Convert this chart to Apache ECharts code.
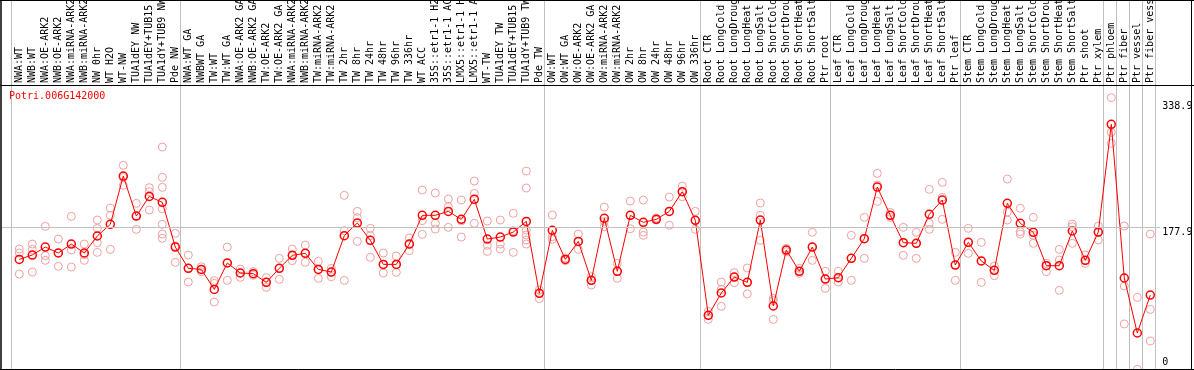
<!DOCTYPE html>
<html><head><meta charset="utf-8">
<script src="https://cdn.jsdelivr.net/npm/echarts@6/dist/echarts.min.js"></script>
<style>html,body{margin:0;padding:0;background:#fff}#c{width:1194px;height:370px}</style>
</head><body><div id="c"></div>
<script>
const chartTitle = 'Potri.006G142000';
const categories = [
  'NWA:WT','NWB:WT','NWA:OE-ARK2','NWB:OE-ARK2','NWA:miRNA-ARK2','NWB:miRNA-ARK2','NW 0hr','WT H2O','WT-NW','TUA1dEY NW','TUA1dEY+TUB15','TUA1dY+TUB9 NW','Pde NW',
  'NWA:WT GA','NWBWT GA','TW:WT','TW:WT GA','NWA:OE-ARK2 GA','NWB:OE-ARK2 GA','TW:OE-ARK2','TW:OE-ARK2 GA','NWA:miRNA-ARK2','NWB:miRNA-ARK2','TW:miRNA-ARK2','TW:miRNA-ARK2','TW 2hr','TW 8hr','TW 24hr','TW 48hr','TW 96hr','TW 336hr','WT ACC','35S::etr1-1 H2O','35S::etr1-1 ACC','LMX5::etr1-1 H2O','LMX5::etr1-1 ACC','WT-TW','TUA1dEY TW','TUA1dEY+TUB15','TUA1dY+TUB9 TW','Pde TW',
  'OW:WT','OW:WT GA','OW:OE-ARK2','OW:OE-ARK2 GA','OW:miRNA-ARK2','OW:miRNA-ARK2','OW 2hr','OW 8hr','OW 24hr','OW 48hr','OW 96hr','OW 336hr',
  'Root CTR','Root LongCold','Root LongDrought','Root LongHeat','Root LongSalt','Root ShortCold','Root ShortDrought','Root ShortHeat','Root ShortSalt','Ptr root',
  'Leaf CTR','Leaf LongCold','Leaf LongDrought','Leaf LongHeat','Leaf LongSalt','Leaf ShortCold','Leaf ShortDrought','Leaf ShortHeat','Leaf ShortSalt','Ptr leaf',
  'Stem CTR','Stem LongCold','Stem LongDrought','Stem LongHeat','Stem LongSalt','Stem ShortCold','Stem ShortDrought','Stem ShortHeat','Stem ShortSalt','Ptr shoot','Ptr xylem',
  'Ptr phloem','Ptr fiber','Ptr vessel','Ptr fiber vessel'
];
const groupStarts = [0, 13, 41, 53, 63, 73, 84, 85, 86, 87];
const meanValues = [
  138.4,143.8,153.7,146.3,157.4,146.3,167.4,181.8,241.7,192.1,216.5,209.1,153.7,
  127.3,126.0,101.2,133.9,121.5,120.7,109.9,127.3,143.4,145.9,126.0,122.7,167.8,183.5,162.0,132.2,132.2,157.4,193.0,193.0,197.9,188.0,212.8,163.6,166.1,172.3,185.5,
  96.3,174.4,138.4,160.7,112.4,189.3,123.6,193.0,184.3,188.0,197.9,222.3,186.8,
  69.0,96.7,116.5,109.9,187.2,80.6,150.0,123.6,153.7,114.0,
  115.7,139.7,164.0,228.1,193.0,159.1,158.3,194.2,212.0,131.4,
  159.5,136.4,124.8,207.9,183.1,171.9,130.6,130.6,173.6,137.2,172.3,
  305.8,115.3,47.1,94.2
];
const replicateValues = [
  [151.2,146.3,120.2],[157.4,150.8,122.7],[179.3,143.0,137.2],[163.6,146.3,129.8],[191.7,150.0,128.9],[157.4,144.3,137.2],
  [187.2,176.9,159.1,147.1],[202.1,193.0,150.8],[255.0,239.9,230.2],[207.9,192.1,175.6],[227.3,222.3,199.6],
  [277.7,240.1,227.7,201.2,181.8,169.8,164.5],[170.7,155.0,134.7],
  [143.8,127.3,110.3],[129.3,126.0,123.1],[112.0,108.7,85.5],[153.7,134.0,112.4],[126.4,121.5,116.1],[123.1,120.7,118.6],
  [115.7,109.9,103.7],[139.7,127.3,113.6],[151.2,143.4,136.8],[156.2,145.9,134.7],[136.0,126.0,114.9],[127.3,122.7,116.9],
  [217.8,174.0,112.4],[197.9,190.1,160.7],[176.9,167.8,140.9],[146.3,132.2,121.5],[142.6,132.2,122.3],[164.9,157.4,149.2],
  [224.4,186.4,169.4],[220.7,183.1,176.0],[213.2,203.7,178.1],[212.0,186.0,166.1],[235.5,220.2,183.1],[186.0,155.8,148.3],
  [187.2,157.4,151.2],[195.5,174.0,147.1],[247.9,226.9,174.8,168.6,162.4,157.4],
  [100.4,96.3,89.7],[193.4,166.5,163.2],[140.1,138.4,136.8],[169.8,160.7,150.8],[116.9,112.4,106.6],[203.3,185.5,178.9],
  [133.5,123.6,114.9],[210.7,193.0,176.4],[212.0,172.3,168.2],[189.7,188.0,187.2],[215.7,197.9,180.6],[229.3,222.3,216.1],
  [197.9,186.8,175.6],
  [74.0,69.0,64.0],[110.3,101.2,80.2],[121.9,116.5,109.5],[127.7,109.9,95.5],[208.3,193.0,162.0],[90.1,87.2,64.0],
  [152.1,150.0,147.9],[127.3,123.6,121.1],[171.9,153.7,137.2],[123.6,114.0,102.5],
  [123.6,115.7,110.3],[168.2,139.7,112.4],[190.5,164.0,139.7],[245.0,230.6,210.3],[196.7,193.0,190.5],[178.1,159.1,143.4],
  [171.9,158.3,139.7],[225.2,183.1,175.6],[233.9,215.3,188.0],[147.1,131.4,112.4],
  [176.9,159.5,145.9],[159.5,136.4,109.9],[130.2,124.8,118.2],[238.0,197.1,187.2],[201.7,172.7,169.8],[190.5,168.2,158.3],
  [133.5,130.6,123.1],[150.8,137.6,100.0],[182.2,178.9,158.3],[143.8,137.2,133.5],[179.8,172.3,162.4],
  [338.9,295.9,282.2],[179.8,105.4,58.3],[91.3,2.1],[169.8,76.4,37.2]
];
const yTickValues = [0, 177.9, 338.9];
const referenceLineValue = 177.9;

const FONT = 'DejaVu Sans Mono';
const repData = [];
replicateValues.forEach((reps, i) => reps.forEach(v => repData.push([i, v])));

const chart = echarts.init(document.getElementById('c'), null, {renderer: 'canvas'});
const gridBase = {containLabel: false, outerBoundsMode: 'none'};
chart.setOption({
  animation: false,
  backgroundColor: '#fff',
  title: {
    text: chartTitle, left: 9, top: 91, padding: 0,
    textStyle: {color: '#ff0000', fontFamily: FONT, fontSize: 10, fontWeight: 'normal'}
  },
  grid: [
    Object.assign({left: 11, top: 0, width: 1144, height: 369}, gridBase),
    Object.assign({left: 12.8, top: 0, width: 1144, height: 371}, gridBase),
    Object.assign({left: 1, top: 0, width: 1159, height: 371}, gridBase)
  ],
  xAxis: [
    {
      gridIndex: 0, type: 'category', data: categories, boundaryGap: true,
      axisLine: {show: false}, axisTick: {show: false}, axisLabel: {show: false},
      splitLine: {show: true, interval: (i) => groupStarts.includes(i), lineStyle: {color: '#c0c0c0', width: 1}}
    },
    {
      gridIndex: 1, type: 'category', data: categories, boundaryGap: true,
      position: 'top', offset: -85,
      axisLine: {show: false}, axisTick: {show: false}, splitLine: {show: false},
      axisLabel: {interval: 0, rotate: 90, margin: 2, color: '#000', fontFamily: FONT, fontSize: 10, hideOverlap: false, padding: [3, 0, 0, 0]}
    },
    {gridIndex: 2, type: 'value', min: 0, max: 1, show: false}
  ],
  yAxis: [
    {gridIndex: 0, type: 'value', min: 0, max: 1, show: false},
    {
      gridIndex: 1, type: 'value', min: 0, max: 460, position: 'right',
      axisLine: {show: false}, axisTick: {show: false}, splitLine: {show: false},
      axisLabel: {
        customValues: yTickValues, margin: 5.5, color: '#000', fontFamily: FONT, fontSize: 10,
        formatter: (v) => {
          const key = v === yTickValues[0] ? 'lo' : (v === yTickValues[yTickValues.length - 1] ? 'hi' : 'mid');
          return '{' + key + '|' + v + '}';
        },
        rich: {
          hi: {fontFamily: FONT, fontSize: 10, color: '#000', padding: [18, 0, 0, 0]},
          mid: {fontFamily: FONT, fontSize: 10, color: '#000', padding: [9, 0, 0, 0]},
          lo: {fontFamily: FONT, fontSize: 10, color: '#000', padding: [0, 0, 18, 0]}
        }
      }
    },
    {gridIndex: 2, type: 'value', min: 0, max: 460, show: false}
  ],
  series: [
    {
      type: 'line', xAxisIndex: 2, yAxisIndex: 2, data: [], silent: true, z: 1,
      markLine: {
        silent: true, symbol: ['none', 'none'], animation: false,
        label: {show: false},
        lineStyle: {color: '#c0c0c0', type: 'solid', width: 1},
        data: [{yAxis: referenceLineValue}]
      }
    },
    {
      type: 'scatter', xAxisIndex: 1, yAxisIndex: 1, data: repData, silent: true, z: 2,
      symbol: 'circle', symbolSize: 8,
      itemStyle: {color: 'rgba(0,0,0,0)', borderColor: '#f0a0a0', borderWidth: 1, opacity: 1}
    },
    {
      type: 'line', xAxisIndex: 1, yAxisIndex: 1, data: meanValues, silent: true, z: 3,
      symbol: 'circle', symbolSize: 8, showAllSymbol: true,
      itemStyle: {color: 'rgba(0,0,0,0)', borderColor: '#ff0000', borderWidth: 1.5},
      lineStyle: {color: '#ff0000', width: 1},
      emphasis: {disabled: true}
    }
  ],
  graphic: [
    {type: 'line', z: 100, silent: true, shape: {x1: 1, y1: 0, x2: 1, y2: 370}, style: {stroke: '#000', lineWidth: 1.5}},
    {type: 'line', z: 100, silent: true, shape: {x1: 0, y1: 0.5, x2: 1194, y2: 0.5}, style: {stroke: '#000', lineWidth: 1}},
    {type: 'line', z: 100, silent: true, shape: {x1: 0, y1: 85.5, x2: 1194, y2: 85.5}, style: {stroke: '#000', lineWidth: 1}},
    {type: 'line', z: 100, silent: true, shape: {x1: 0, y1: 369.5, x2: 1194, y2: 369.5}, style: {stroke: '#000', lineWidth: 1}},
    {type: 'line', z: 100, silent: true, shape: {x1: 1191.5, y1: 0, x2: 1191.5, y2: 370}, style: {stroke: '#000', lineWidth: 1}}
  ]
});
</script>
</body></html>
